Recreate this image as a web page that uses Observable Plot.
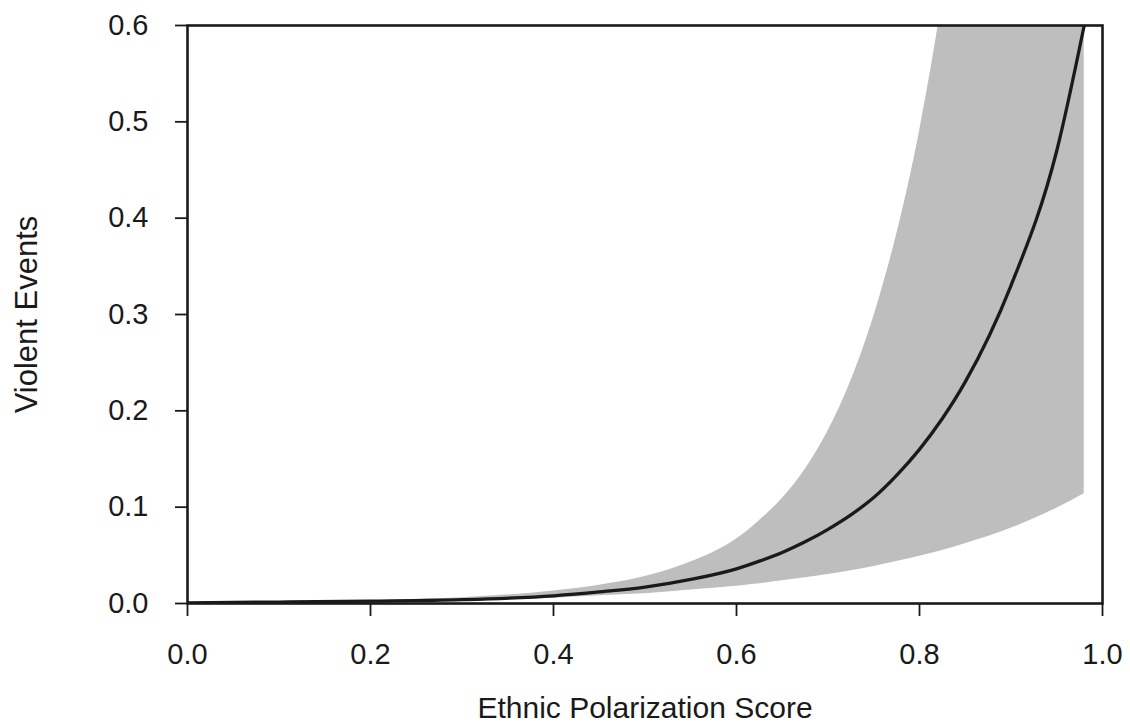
<!DOCTYPE html>
<html>
<head>
<meta charset="utf-8">
<script src="https://cdn.jsdelivr.net/npm/d3@7"></script>
<script src="https://cdn.jsdelivr.net/npm/@observablehq/plot@0.6"></script>
<style>
  html, body { margin: 0; padding: 0; background: #fff; }
  svg { display: block; }
</style>
</head>
<body>
<div id="chart"></div>
<script>
// Ethnic polarization score (x)
const xs =    [0,      0.1,    0.2,    0.3,    0.4,    0.45,  0.5,   0.55,  0.6,   0.625, 0.65,  0.675, 0.7,   0.725, 0.75,  0.775, 0.8,   0.825, 0.85,  0.9,   0.95,  0.98];
// Predicted violent events (black line)
const fit =   [0.0007, 0.0015, 0.0025, 0.004,  0.008,  0.012, 0.017, 0.025, 0.036, 0.044, 0.053, 0.064, 0.077, 0.092, 0.11,  0.133, 0.16,  0.192, 0.23,  0.33,  0.47,  0.60];
// Upper confidence bound (grey band)
const upper = [0.001,  0.002,  0.003,  0.006,  0.013,  0.019, 0.028, 0.043, 0.067, 0.086, 0.109, 0.139, 0.179, 0.231, 0.298, 0.383, 0.49,  0.628, 0.80,  1.25,  2.0,   2.6];
// Lower confidence bound (grey band)
const lower = [0.0003, 0.0008, 0.0015, 0.0028, 0.0055, 0.008, 0.010, 0.014, 0.018, 0.0205,0.0235,0.0267,0.030, 0.034, 0.0385,0.0435,0.049, 0.055, 0.062, 0.078, 0.099, 0.114];

const xTicks = [0, 0.2, 0.4, 0.6, 0.8, 1.0];
const yTicks = [0, 0.1, 0.2, 0.3, 0.4, 0.5, 0.6];
const xTitle = "Ethnic Polarization Score";
const yTitle = "Violent Events";

const rows = xs.map((x, i) => ({x, fit: fit[i], lo: lower[i], hi: upper[i]}));

const plot = Plot.plot({
  width: 1130,
  height: 725,
  marginLeft: 187,
  marginRight: 28,
  marginTop: 25,
  marginBottom: 122,
  style: {fontFamily: "'Liberation Sans', Arial, sans-serif", fontSize: "29px", color: "#1a1a1a", background: "#fff"},
  x: {domain: [0, 1]},
  y: {domain: [0, 0.6]},
  marks: [
    Plot.areaY(rows, {x: "x", y1: "lo", y2: "hi", fill: "#bebebe", curve: "monotone-x", clip: true}),
    Plot.line(rows, {x: "x", y: "fit", stroke: "#1a1a1a", strokeWidth: 3.3, curve: "monotone-x", clip: true}),
    Plot.frame({stroke: "#1a1a1a", strokeWidth: 2.6}),
    Plot.axisX({ticks: xTicks, tickFormat: d3.format(".1f"), tickSize: 13, tickPadding: 27, strokeWidth: 1.8,
      fontSize: 29, label: null}),
    Plot.axisX({ticks: [], tickSize: 0, label: xTitle, labelAnchor: "center", labelOffset: 114,
      labelArrow: "none", fontSize: 30}),
    Plot.axisY({ticks: yTicks, tickFormat: d3.format(".1f"), tickSize: 12, tickPadding: 27, strokeWidth: 1.8,
      fontSize: 29, label: null}),
    Plot.axisY({ticks: [], tickSize: 0, label: yTitle, labelAnchor: "center", labelOffset: 173,
      labelArrow: "none", fontSize: 31})
  ]
});

document.getElementById("chart").appendChild(plot);
</script>
</body>
</html>
